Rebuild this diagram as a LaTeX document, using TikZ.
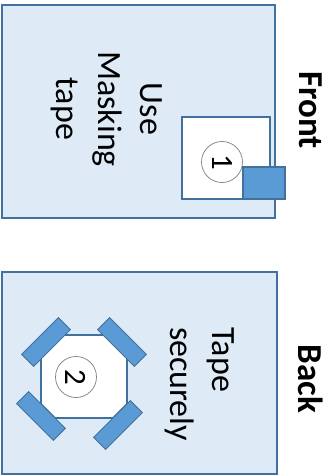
\documentclass[tikz,border=0pt]{standalone}
\usepackage{fontspec}
\setmainfont{Carlito}
\definecolor{cardfill}{HTML}{DEEBF7}
\definecolor{cardline}{HTML}{41719C}
\definecolor{tapefill}{HTML}{5B9BD5}
\definecolor{ringline}{HTML}{7F7F7F}
\tikzset{
  card/.style={fill=cardfill, draw=cardline, line width=1.8pt},
  window/.style={fill=white, draw=cardline, line width=1.6pt},
  tapestrip/.style={fill=tapefill, draw=cardline, line width=1pt,
    minimum width=52pt, minimum height=17pt, inner sep=0pt},
  ring/.style={circle, draw=ringline, line width=0.7pt, minimum size=41pt,
    inner sep=0pt, rotate=-90, font=\fontsize{31}{31}\selectfont},
  note/.style={rotate=-90, font=\fontsize{34}{42}\selectfont},
  side/.style={rotate=-90, font=\fontsize{35}{40}\selectfont\bfseries}
}
\def\cut{14}
\begin{document}
\begin{tikzpicture}[x=1pt,y=-1pt]
  \useasboundingbox (0,0) rectangle (333,476);
  %% front side
  \draw[card] (2,5) rectangle (275,218);
  \draw[window] (182,117) rectangle (270,199);
  \node[ring] (one) at (222,162) {1};
  \draw[card, fill=tapefill] (243,167) rectangle (285,199);
  \node[note, align=center] (usetape) at (107,109) {Use\\Masking\\tape};
  \node[side] (front) at (311,110) {Front};
  %% back side
  \draw[card] (2,272) rectangle (277,474);
  \draw[window] (41+\cut,335) -- (127-\cut,335) -- (127,335+\cut) -- (127,418-\cut)
    -- (127-\cut,418) -- (41+\cut,418) -- (41,418-\cut) -- (41,335+\cut) -- cycle;
  \node[ring] (two) at (76,377) {2};
  \foreach \n/\cx/\cy/\ang in {tl/46/342/45, tr/122/342/-45, bl/41/416/-45, br/118/425/45}
    \node[tapestrip, rotate=\ang] (\n) at (\cx,\cy) {};
  \node[note, align=left] (securely) at (200,384) {Tape\\securely};
  \node[side] (back) at (311,379) {Back};
\end{tikzpicture}
\end{document}
